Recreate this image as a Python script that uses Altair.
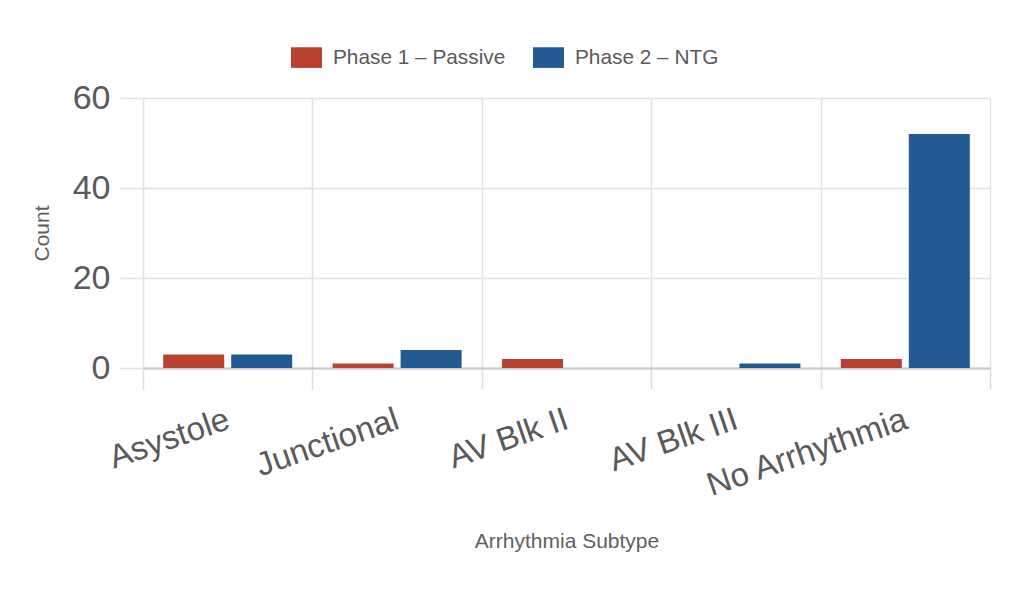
import altair as alt
import pandas as pd

categories = ["Asystole", "Junctional", "AV Blk II", "AV Blk III", "No Arrhythmia"]
phases = ["Phase 1 – Passive", "Phase 2 – NTG"]
phase1 = [3, 1, 2, 0, 2]
phase2 = [3, 4, 0, 1, 52]
colors = ["#b8412f", "#245a94"]

rows = []
for c, a, b in zip(categories, phase1, phase2):
    rows.append({"subtype": c, "phase": phases[0], "count": a})
    rows.append({"subtype": c, "phase": phases[1], "count": b})
df = pd.DataFrame(rows)

FONT = "Liberation Sans"

chart = alt.Chart(df).mark_bar().encode(
    x=alt.X("subtype:N", sort=categories,
            scale=alt.Scale(paddingInner=0, paddingOuter=0),
            axis=alt.Axis(title="Arrhythmia Subtype", tickBand="extent",
                          labelAngle=-19, labelAlign="right", labelBaseline="top",
                          labelPadding=14, labelFontSize=33, labelColor="#5a5a5a",
                          labelFont=FONT, labelLimit=0, labelOffset=-5,
                          tickSize=21, tickColor="#dddddd", tickWidth=1.5,
                          grid=True, gridColor="#e2e2e2", gridWidth=1.5,
                          domainColor="#c8c8c8", domainWidth=2,
                          titleFont=FONT, titleFontSize=21, titleFontWeight="normal",
                          titleColor="#5f5f5f", titleY=173, titleBaseline="middle")),
    xOffset=alt.XOffset("phase:N", sort=phases,
                        scale=alt.Scale(paddingInner=0.103, paddingOuter=0.297)),
    y=alt.Y("count:Q", scale=alt.Scale(domain=[0, 60], nice=False),
            axis=alt.Axis(title="Count", values=[0, 20, 40, 60], domain=False,
                          tickSize=23, tickColor="#e2e2e2", tickWidth=1.5,
                          gridColor="#e2e2e2", gridWidth=1.5,
                          labelPadding=10, labelFontSize=34, labelColor="#5a5a5a",
                          labelFont=FONT,
                          titleFont=FONT, titleFontSize=21, titleFontWeight="normal",
                          titleColor="#5f5f5f", titleX=-101, titleY=135,
                          titleAngle=-90, titleAlign="center", titleBaseline="middle")),
    color=alt.Color("phase:N", sort=phases,
                    scale=alt.Scale(domain=phases, range=colors),
                    legend=alt.Legend(title=None, orient="none", direction="horizontal",
                                      legendX=153, legendY=-51,
                                      symbolType="M-1.5,-1H1.5V1H-1.5Z", symbolSize=427,
                                      symbolStrokeWidth=0, symbolOpacity=1,
                                      labelFont=FONT, labelFontSize=20.8, labelLimit=0,
                                      labelColor="#5a5a5a", labelOffset=16,
                                      columnPadding=27)),
).properties(
    width=847, height=270,
    autosize=alt.AutoSizeParams(type="none"),
    padding={"left": 135, "top": 90, "right": 20, "bottom": 200},
).configure_view(stroke=None)

chart.save("out.html", embed_options={"renderer": "svg", "actions": False})
